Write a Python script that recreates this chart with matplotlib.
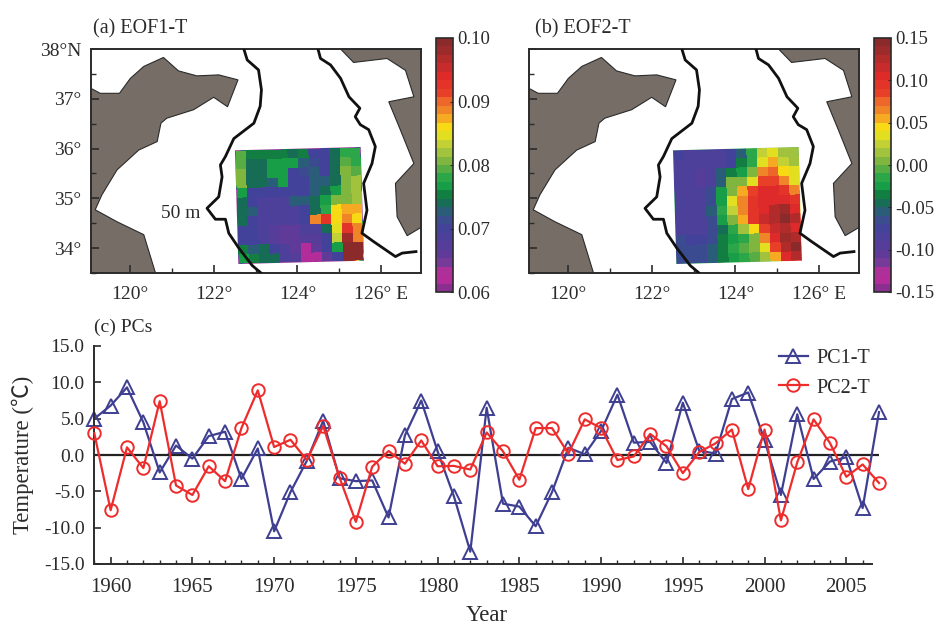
import numpy as np
import matplotlib
matplotlib.use("Agg")
import matplotlib.pyplot as plt
from matplotlib.colors import LinearSegmentedColormap
from matplotlib.transforms import Affine2D
from matplotlib.ticker import MultipleLocator, FormatStrFormatter, FixedLocator

plt.rcParams['font.family'] = ['Liberation Serif', 'Noto Sans CJK SC', 'DejaVu Sans']
plt.rcParams['axes.unicode_minus'] = False

# ---------- data ----------
years = list(range(1959, 2008))
pc1 = [5.0, 6.8, 9.3, 4.5, -2.4, 1.3, -0.5, 2.6, 3.2, -3.3, 0.9, -10.5, -5.1, -0.8, 4.7, -3.2, -3.6, -3.5,
       -8.6, 2.7, 7.5, 0.5, -5.7, -13.3, 6.5, -6.7, -7.1, -9.8, -5.1, 1.0, 0.1, 3.3, 8.3, 1.7, 1.8, -1.1,
       7.2, 0.6, 0.2, 7.7, 8.6, 2.0, -5.5, 5.6, -3.3, -0.9, -0.3, -7.3, 5.9]
pc2 = [3.0, -7.6, 1.05, -1.8, 7.4, -4.2, -5.5, -1.55, -3.6, 3.7, 8.9, 1.1, 2.1, -0.7, 4.0, -3.1, -9.2, -1.6,
       0.55, -1.2, 2.0, -1.55, -1.5, -2.0, 3.1, 0.5, -3.4, 3.7, 3.7, 0.2, 4.9, 3.7, -0.7, -0.2, 2.9, 1.2,
       -2.5, 0.4, 1.6, 3.5, -4.7, 3.5, -9.0, -1.0, 4.9, 1.65, -3.0, -1.3, -3.85]

eof1 = [
 [.0795,.0755,.0755,.0755,.0755,.0745,.0760,.0705,.0705,.0745,.0780,.0780],
 [.0790,.0745,.0745,.0765,.0765,.0765,.0730,.0720,.0705,.0745,.0790,.0780],
 [.0800,.0745,.0745,.0765,.0765,.0705,.0720,.0725,.0705,.0745,.0800,.0790],
 [.0810,.0745,.0745,.0725,.0765,.0695,.0695,.0725,.0725,.0745,.0800,.0820],
 [.0770,.0700,.0695,.0695,.0695,.0695,.0695,.0725,.0745,.0765,.0800,.0820],
 [.0745,.0695,.0690,.0685,.0690,.0725,.0725,.0745,.0770,.0800,.0810,.0820],
 [.0745,.0725,.0690,.0680,.0680,.0690,.0705,.0745,.0785,.0855,.0875,.0875],
 [.0745,.0705,.0690,.0680,.0680,.0685,.0695,.0890,.0925,.0865,.0890,.0865],
 [.0695,.0695,.0680,.0675,.0665,.0660,.0680,.0690,.0745,.0845,.0925,.0890],
 [.0695,.0695,.0685,.0675,.0660,.0660,.0675,.0675,.0705,.0830,.0980,.0885],
 [.0755,.0725,.0745,.0700,.0680,.0665,.0620,.0665,.0695,.0770,.0990,.0990],
 [.0770,.0755,.0745,.0745,.0690,.0670,.0620,.0620,.0660,.0695,.0990,.0990],
]
eof2 = [
 [-.075,-.085,-.090,-.090,-.090,-.075,-.055,-.020,.020,.030,.010,.010],
 [-.080,-.085,-.090,-.085,-.085,-.075,-.040,-.015,.030,.050,.025,.015],
 [-.080,-.090,-.095,-.085,-.060,-.040,-.030,.005,.060,.070,.040,.030],
 [-.080,-.090,-.095,-.085,-.055,.000,.005,.035,.080,.085,.060,.035],
 [-.080,-.085,-.090,-.070,-.030,.000,.050,.085,.100,.100,.090,.065],
 [-.080,-.085,-.085,-.070,-.025,.035,.065,.090,.100,.100,.105,.090],
 [-.085,-.085,-.080,-.060,-.020,.020,.065,.095,.100,.125,.130,.100],
 [-.085,-.085,-.080,-.065,-.030,.000,.050,.090,.115,.125,.140,.125],
 [-.085,-.080,-.080,-.070,-.045,-.020,.015,.040,.085,.115,.125,.105],
 [-.070,-.075,-.075,-.070,-.040,-.025,-.015,.005,.060,.105,.135,.120],
 [-.070,-.070,-.070,-.055,-.040,-.020,-.005,.005,.035,.085,.120,.140],
 [-.070,-.070,-.065,-.055,-.040,-.030,-.015,-.005,.010,.050,.100,.125],
]

land_w_lon = [119.0, 119.0, 119.29, 119.75, 120.01, 120.33, 120.80, 121.16, 121.60, 122.12, 122.58, 122.33, 122.00,
              121.52, 120.88, 120.74, 120.65, 120.21, 119.69, 119.33, 119.17, 119.69, 120.33, 120.61, 119.0]
land_w_lat = [33.5, 37.24, 37.11, 37.11, 37.41, 37.65, 37.83, 37.56, 37.46, 37.48, 37.38, 36.84, 37.03,
              36.78, 36.61, 36.51, 36.14, 35.97, 35.57, 35.07, 34.77, 34.53, 34.27, 33.5, 33.5]
land_e_lon = [125.03, 125.34, 126.14, 126.58, 126.78, 126.18, 126.46, 126.78, 126.34, 126.38, 126.62, 127.0, 127.0]
land_e_lat = [38.0, 37.73, 37.81, 37.57, 37.04, 36.94, 36.37, 35.70, 35.30, 34.63, 34.25, 34.44, 38.0]
iso_w_lon = [122.72, 122.80, 123.07, 123.14, 123.11, 122.96, 122.48, 122.28, 122.16, 122.20, 122.12, 121.84, 122.04,
             122.28, 122.36, 122.60, 122.92, 123.13]
iso_w_lat = [38.0, 37.78, 37.58, 37.18, 36.85, 36.51, 36.20, 35.84, 35.67, 35.43, 35.03, 34.80, 34.58,
             34.58, 34.30, 34.00, 33.65, 33.50]
iso_e_lon = [124.49, 124.55, 124.79, 125.03, 125.23, 125.49, 125.38, 125.50, 125.70, 125.86, 125.78, 125.58, 125.66,
             125.54, 125.82, 126.34, 126.50, 126.83]
iso_e_lat = [38.0, 37.81, 37.68, 37.41, 37.04, 36.81, 36.64, 36.48, 36.38, 36.04, 35.70, 35.30, 34.76,
             34.30, 34.13, 33.83, 33.90, 33.93]

lon_ticks = [120, 122, 124, 126]
lon_labels = ['120°', '122°', '124°', '126° E']
lat_ticks = [38, 37, 36, 35, 34]
lat_labels = ['38°N', '37°', '36°', '35°', '34°']

# ---------- style ----------
W, H = 939, 626
INK = '#2b2b2b'
LAND = '#756d66'
BLUE = '#3f3f92'
RED = '#ee2c2c'
FS = 14
stops = [(0, '#8a2f90'), (.022, '#a0309a'), (.055, '#d0289a'), (.088, '#803a98'), (.14, '#5f3a98'), (.19, '#513f9a'),
         (.245, '#43439a'), (.29, '#38508a'), (.33, '#1e6a68'), (.363, '#107040'), (.416, '#18a048'),
         (.455, '#30a848'), (.50, '#70b040'), (.567, '#b0c83c'), (.60, '#d0d830'), (.645, '#f8e810'),
         (.68, '#f7b520'), (.718, '#f08a28'), (.755, '#ee6a2a'), (.79, '#e84028'), (.86, '#e02a2a'),
         (.92, '#b82c2c'), (1, '#8b2a2a')]
cmap = LinearSegmentedColormap.from_list('eof', stops, N=30)


def axpx(fig, x0, y0, x1, y1):
    return fig.add_axes([x0 / W, 1 - y1 / H, (x1 - x0) / W, (y1 - y0) / H])


fig = plt.figure(figsize=(W / 100, H / 100), dpi=100, facecolor='white')


def panel(box, cbox, field, vmin, vmax, cticks, cfmt, title, titlex, show_lat):
    ax = axpx(fig, *box)
    ax.fill(land_w_lon, land_w_lat, color=LAND, ec=INK, lw=0.8, zorder=1)
    ax.fill(land_e_lon, land_e_lat, color=LAND, ec=INK, lw=0.8, zorder=1)
    # grid slightly skewed, as in the reference
    skew = (Affine2D().translate(-122.5, -35.95)
            + Affine2D(np.array([[1, -0.035, 0], [0.022, 1, 0], [0, 0, 1]]))
            + Affine2D().translate(122.52, 35.95))
    m = ax.imshow(np.array(field), extent=(122.5, 125.5, 33.68, 35.95), origin='upper', aspect='auto',
                  cmap=cmap, vmin=vmin, vmax=vmax, zorder=2, interpolation='nearest',
                  transform=skew + ax.transData)
    ax.plot(iso_w_lon, iso_w_lat, color='#111111', lw=2, zorder=3)
    ax.plot(iso_e_lon, iso_e_lat, color='#111111', lw=2, zorder=3)
    ax.set_xlim(119.07, 126.95)
    ax.set_ylim(33.5, 38)
    for s in ax.spines.values():
        s.set_linewidth(1.4)
        s.set_color(INK)
    ax.xaxis.set_major_locator(FixedLocator(lon_ticks))
    ax.set_xticklabels(lon_labels, fontsize=FS, color=INK)
    ax.xaxis.set_minor_locator(MultipleLocator(1))
    ax.yaxis.set_major_locator(FixedLocator(lat_ticks))
    ax.yaxis.set_minor_locator(MultipleLocator(0.5))
    if show_lat:
        ax.set_yticklabels(lat_labels, fontsize=FS, color=INK)
    else:
        ax.set_yticklabels([])
    ax.tick_params(which='major', direction='in', length=6, width=1.2, color=INK)
    ax.tick_params(axis='x', which='major', pad=9)
    ax.tick_params(axis='y', which='major', pad=7)
    ax.tick_params(which='minor', direction='in', length=3.5, width=1.0, color=INK)
    fig.text(titlex / W, 1 - 29 / H, title, fontsize=FS + 0.5, color=INK, ha='left', va='center')
    cax = axpx(fig, *cbox)
    cb = fig.colorbar(m, cax=cax)
    cb.set_ticks(cticks)
    cb.ax.yaxis.set_major_formatter(FormatStrFormatter(cfmt))
    cb.ax.tick_params(direction='in', length=2, width=0.8, labelsize=13.5, labelcolor=INK, color=INK, pad=3)
    cb.outline.set_linewidth(1.2)
    cb.outline.set_edgecolor(INK)
    return ax


axa = panel((91, 49, 421, 273), (436, 38, 453, 292), eof1, 0.06, 0.10,
            [0.06, 0.07, 0.08, 0.09, 0.10], '%.2f', '(a) EOF1-T', 93, True)
axa.text(121.22, 34.69, '50 m', fontsize=FS, color=INK, ha='center', va='center', zorder=4)
axb = panel((529, 49, 859, 273), (874, 38, 891, 292), eof2, -0.15, 0.15,
            [-0.15, -0.10, -0.05, 0.0, 0.05, 0.10, 0.15], '%.2f', '(b) EOF2-T', 535, False)

# time series
ax = axpx(fig, 94.3, 346, 879, 564)
ax.set_xlim(1959, 2007)
ax.set_ylim(-15, 15)
ax.axhline(0, color='#222222', lw=1.6, zorder=1)
ax.plot(years, pc1, color=BLUE, lw=1.6, marker='^', ms=9.5, mfc='none', mec=BLUE, mew=1.4,
        label='PC1-T', clip_on=False, zorder=2)
ax.plot(years, pc2, color=RED, lw=1.6, marker='o', ms=9, mfc='none', mec=RED, mew=1.4,
        label='PC2-T', clip_on=False, zorder=3)
ax.spines['top'].set_visible(False)
ax.spines['right'].set_visible(False)
ax.spines['left'].set_linewidth(1.4)
ax.spines['left'].set_color(INK)
ax.spines['bottom'].set_linewidth(1.4)
ax.spines['bottom'].set_color(INK)
ax.spines['bottom'].set_bounds(1959, 2006.6)
ax.xaxis.set_major_locator(FixedLocator(list(range(1960, 2006, 5))))
ax.xaxis.set_minor_locator(FixedLocator(list(range(1959, 2007))))
ax.yaxis.set_major_locator(MultipleLocator(5))
ax.yaxis.set_major_formatter(FormatStrFormatter('%.1f'))
ax.tick_params(which='major', direction='in', length=5, width=1.2, color=INK, labelcolor=INK)
ax.tick_params(axis='x', which='major', labelsize=15, pad=10)
ax.tick_params(axis='y', which='major', labelsize=14, pad=7)
ax.tick_params(which='minor', direction='in', length=3, width=1.0, color=INK)
ax.set_xlabel('Year', fontsize=16.5, color=INK, labelpad=6)
ax.set_ylabel('Temperature (℃)', fontsize=16.4, color=INK, labelpad=7)
ax.legend(loc='upper left', bbox_to_anchor=(0.873, 0.985), borderaxespad=0, borderpad=0, frameon=False,
          fontsize=14.5, handlelength=1.4, labelspacing=0.5, handletextpad=0.45, labelcolor=INK)
fig.text(94 / W, 1 - 327 / H, '(c) PCs', fontsize=FS, color=INK, ha='left', va='center')

fig.savefig('out.png', dpi=100, facecolor='white')
